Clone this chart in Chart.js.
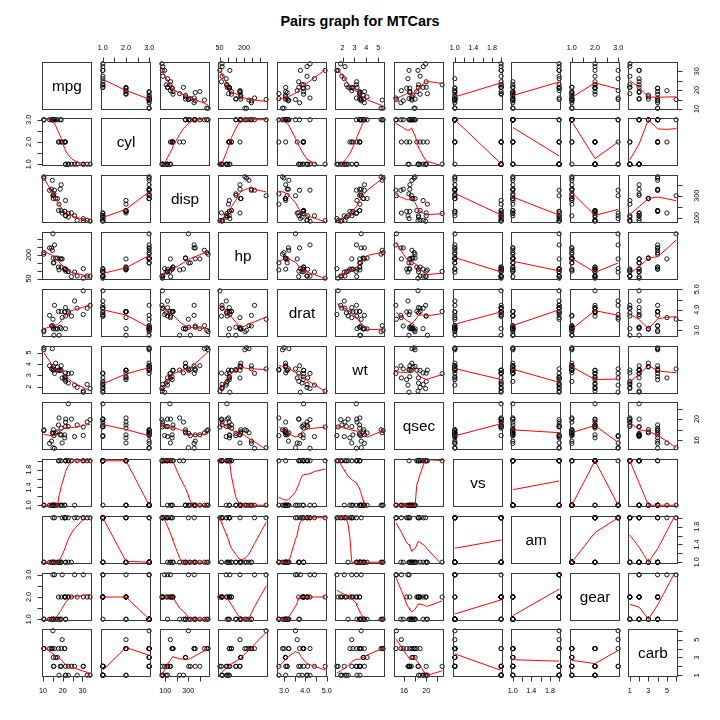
<!DOCTYPE html>
<html>
<head>
<meta charset="utf-8">
<script src="https://cdn.jsdelivr.net/npm/chart.js@4.4.1/dist/chart.umd.min.js"></script>
<style>
  html, body { margin:0; padding:0; background:#fff; }
  #wrap { position:relative; width:720px; height:720px; overflow:hidden; background:#fff; }
  #title { position:absolute; left:0; width:720px; top:13px; text-align:center;
           font-family:"Liberation Sans", Arial, sans-serif; font-weight:bold; font-size:14.4px; color:#000; }
  canvas { position:absolute; }
</style>
</head>
<body>
<div id="wrap"><div id="title">Pairs graph for MTCars</div></div>
<script>
// ---- data (mtcars; factors cyl, vs, am, gear, carb shown as level codes) ----
const varNames = ["mpg","cyl","disp","hp","drat","wt","qsec","vs","am","gear","carb"];
const mpg  = [21.0,21.0,22.8,21.4,18.7,18.1,14.3,24.4,22.8,19.2,17.8,16.4,17.3,15.2,10.4,10.4,14.7,32.4,30.4,33.9,21.5,15.5,15.2,13.3,19.2,27.3,26.0,30.4,15.8,19.7,15.0,21.4];
const cyl  = [2,2,1,2,3,2,3,1,1,2,2,3,3,3,3,3,3,1,1,1,1,3,3,3,3,1,1,1,3,2,3,1];
const disp = [160,160,108,258,360,225,360,146.7,140.8,167.6,167.6,275.8,275.8,275.8,472,460,440,78.7,75.7,71.1,120.1,318,304,350,400,79,120.3,95.1,351,145,301,121];
const hp   = [110,110,93,110,175,105,245,62,95,123,123,180,180,180,205,215,230,66,52,65,97,150,150,245,175,66,91,113,264,175,335,109];
const drat = [3.90,3.90,3.85,3.08,3.15,2.76,3.21,3.69,3.92,3.92,3.92,3.07,3.07,3.07,2.93,3.00,3.23,4.08,4.93,4.22,3.70,2.76,3.15,3.73,3.08,4.08,4.43,3.77,4.22,3.62,3.54,4.11];
const wt   = [2.620,2.875,2.320,3.215,3.440,3.460,3.570,3.190,3.150,3.440,3.440,4.070,3.730,3.780,5.250,5.424,5.345,2.200,1.615,1.835,2.465,3.520,3.435,3.840,3.845,1.935,2.140,1.513,3.170,2.770,3.570,2.780];
const qsec = [16.46,17.02,18.61,19.44,17.02,20.22,15.84,20.00,22.90,18.30,18.90,17.40,17.60,18.00,17.98,17.82,17.42,19.47,18.52,19.90,20.01,16.87,17.30,15.41,17.05,18.90,16.70,16.90,14.50,15.50,14.60,18.60];
const vs   = [1,1,2,2,1,2,1,2,2,2,2,1,1,1,1,1,1,2,2,2,2,1,1,1,1,2,1,2,1,1,1,2];
const am   = [2,2,2,1,1,1,1,1,1,1,1,1,1,1,1,1,1,2,2,2,1,1,1,1,1,2,2,2,2,2,2,2];
const gear = [2,2,2,1,1,1,1,2,2,2,2,1,1,1,1,1,1,2,2,2,1,1,1,1,1,2,3,3,3,3,3,2];
const carb = [4,4,1,1,2,1,4,2,2,4,4,3,3,3,4,4,4,1,2,1,1,2,2,4,2,1,2,2,4,5,6,2];
const columns = [mpg,cyl,disp,hp,drat,wt,qsec,vs,am,gear,carb];

// ---- axis ticks (all tick marks) and the labels R printed ----
const tickMarks = [
  [10,15,20,25,30],
  [1,1.5,2,2.5,3],
  [100,200,300,400],
  [50,100,150,200,250,300],
  [3,3.5,4,4.5,5],
  [2,3,4,5],
  [16,18,20,22],
  [1,1.2,1.4,1.6,1.8,2],
  [1,1.2,1.4,1.6,1.8,2],
  [1,1.5,2,2.5,3],
  [1,2,3,4,5,6]
];
const tickLabels = [
  {10:"10",20:"20",30:"30"},
  {1:"1.0",2:"2.0",3:"3.0"},
  {100:"100",300:"300"},
  {50:"50",200:"200"},
  {3:"3.0",4:"4.0",5:"5.0"},
  {2:"2",3:"3",4:"4",5:"5"},
  {16:"16",20:"20"},
  {1:"1.0",1.4:"1.4",1.8:"1.8"},
  {1:"1.0",1.4:"1.4",1.8:"1.8"},
  {1:"1.0",2:"2.0",3:"3.0"},
  {1:"1",3:"3",5:"5"}
];

// ---- R's lowess (clowess port) used by panel.smooth ----
function lowest(x, y, n, xs, nleft, nright, w, userw, rw) {
  const range = x[n] - x[1];
  const h = Math.max(xs - x[nleft], x[nright] - xs);
  const h9 = 0.999 * h, h1 = 0.001 * h;
  let a = 0, j = nleft;
  while (j <= n) {
    w[j] = 0;
    const r = Math.abs(x[j] - xs);
    if (r <= h9) {
      if (r <= h1) w[j] = 1;
      else { const q = r / h; const t = 1 - q * q * q; w[j] = t * t * t; }
      if (userw) w[j] *= rw[j];
      a += w[j];
    } else if (x[j] > xs) break;
    j++;
  }
  const nrt = j - 1;
  if (a <= 0) return { ok: false, ys: 0 };
  for (j = nleft; j <= nrt; j++) w[j] /= a;
  if (h > 0) {
    a = 0;
    for (j = nleft; j <= nrt; j++) a += w[j] * x[j];
    let b = xs - a, c = 0;
    for (j = nleft; j <= nrt; j++) c += w[j] * (x[j] - a) * (x[j] - a);
    if (Math.sqrt(c) > 0.001 * range) {
      b /= c;
      for (j = nleft; j <= nrt; j++) w[j] *= (b * (x[j] - a) + 1);
    }
  }
  let ys = 0;
  for (j = nleft; j <= nrt; j++) ys += w[j] * y[j];
  return { ok: true, ys: ys };
}
function clowess(x, y, n, f, nsteps, delta) {
  const ys = new Array(n + 1).fill(0), rw = new Array(n + 1).fill(0), res = new Array(n + 1).fill(0);
  if (n < 2) { ys[1] = y[1]; return ys; }
  const ns = Math.max(2, Math.min(n, Math.floor(f * n + 1e-7)));
  let iter = 1;
  while (iter <= nsteps + 1) {
    let nleft = 1, nright = ns, last = 0, i = 1;
    for (;;) {
      if (nright < n) {
        const d1 = x[i] - x[nleft], d2 = x[nright + 1] - x[i];
        if (d1 > d2) { nleft++; nright++; continue; }
      }
      const r = lowest(x, y, n, x[i], nleft, nright, res, iter > 1, rw);
      ys[i] = r.ok ? r.ys : y[i];
      if (last < i - 1) {
        const denom = x[i] - x[last];
        for (let j = last + 1; j < i; j++) {
          const alpha = (x[j] - x[last]) / denom;
          ys[j] = alpha * ys[i] + (1 - alpha) * ys[last];
        }
      }
      last = i;
      const cut = x[last] + delta;
      for (i = last + 1; i <= n; i++) {
        if (x[i] > cut) break;
        if (x[i] === x[last]) { ys[i] = ys[last]; last = i; }
      }
      i = Math.max(last + 1, i - 1);
      if (last >= n) break;
    }
    for (i = 1; i <= n; i++) res[i] = y[i] - ys[i];
    let sc = 0;
    for (i = 1; i <= n; i++) sc += Math.abs(res[i]);
    sc /= n;
    if (iter > nsteps) break;
    const s = [];
    for (i = 1; i <= n; i++) s.push(Math.abs(res[i]));
    s.sort((p, q) => p - q);
    const m1 = Math.floor(n / 2);
    let cmad;
    if (n % 2 === 0) { const m2 = n - m1 - 1; cmad = 3 * (s[m1] + s[m2]); }
    else cmad = 6 * s[m1];
    if (cmad < 1e-7 * sc) break;
    const c9 = 0.999 * cmad, c1 = 0.001 * cmad;
    for (i = 1; i <= n; i++) {
      const r = Math.abs(res[i]);
      if (r <= c1) rw[i] = 1;
      else if (r <= c9) { const u = r / cmad; rw[i] = (1 - u * u) * (1 - u * u); }
      else rw[i] = 0;
    }
    iter++;
  }
  return ys;
}
function lowess(xv, yv) {
  const n = xv.length;
  const o = xv.map((v, i) => i).sort((a, b) => (xv[a] - xv[b]) || (a - b));
  const x = [0].concat(o.map(i => xv[i]));
  const y = [0].concat(o.map(i => yv[i]));
  const delta = 0.01 * (x[n] - x[1]);
  const ys = clowess(x, y, n, 2 / 3, 3, delta);
  const out = [];
  for (let i = 1; i <= n; i++) out.push({ x: x[i], y: ys[i] });
  return out;
}

// ---- layout ----
const NV = varNames.length;
const M = 30;
const BOXW = 50, BOXH = 48;
const boxLeft = i => Math.round(42.3 + i * 58.62);
const boxTop  = i => Math.round(61.7 + i * 56.76);
const TICKFONT = '7.2px "Liberation Sans", Arial, sans-serif';

function rangeOf(arr) {
  let lo = Math.min(...arr), hi = Math.max(...arr);
  const r = hi - lo;
  return [lo - 0.04 * r, hi + 0.04 * r];
}

const panelPlugin = {
  id: 'panelPlugin',
  afterDraw(chart) {
    const o = chart.options.plugins.panelPlugin;
    const ctx = chart.ctx, ca = chart.chartArea;
    const xs = chart.scales.x, ys = chart.scales.y;
    ctx.save();
    // box
    ctx.strokeStyle = '#383838';
    ctx.lineWidth = 1;
    ctx.strokeRect(ca.left + 0.5, ca.top + 0.5, ca.width - 1, ca.height - 1);
    // diagonal label
    if (o.label) {
      ctx.fillStyle = '#000';
      ctx.font = '15.3px "Liberation Sans", Arial, sans-serif';
      ctx.textAlign = 'center';
      ctx.textBaseline = 'middle';
      ctx.fillText(o.label, (ca.left + ca.right) / 2, (ca.top + ca.bottom) / 2 + 1);
    }
    ctx.font = TICKFONT;
    ctx.fillStyle = '#000';
    ctx.strokeStyle = '#383838';
    const drawX = (side, vi) => {
      const marks = tickMarks[vi], labs = tickLabels[vi];
      const yEdge = side === 'top' ? ca.top + 0.5 : ca.bottom - 0.5;
      const dir = side === 'top' ? -1 : 1;
      ctx.beginPath();
      const p0 = Math.round(xs.getPixelForValue(marks[0])) + 0.5;
      const p1 = Math.round(xs.getPixelForValue(marks[marks.length - 1])) + 0.5;
      ctx.moveTo(p0, yEdge); ctx.lineTo(p1, yEdge);
      marks.forEach(v => {
        const px = Math.round(xs.getPixelForValue(v)) + 0.5;
        ctx.moveTo(px, yEdge); ctx.lineTo(px, yEdge + dir * 5);
      });
      ctx.stroke();
      ctx.textAlign = 'center'; ctx.textBaseline = 'middle';
      marks.forEach(v => {
        if (labs[v] === undefined) return;
        const px = xs.getPixelForValue(v);
        ctx.fillText(labs[v], px, side === 'top' ? ca.top - 14 : ca.bottom + 14.5);
      });
    };
    const drawY = (side, vi) => {
      const marks = tickMarks[vi], labs = tickLabels[vi];
      const xEdge = side === 'left' ? ca.left + 0.5 : ca.right - 0.5;
      const dir = side === 'left' ? -1 : 1;
      ctx.beginPath();
      const p0 = Math.round(ys.getPixelForValue(marks[0])) + 0.5;
      const p1 = Math.round(ys.getPixelForValue(marks[marks.length - 1])) + 0.5;
      ctx.moveTo(xEdge, p0); ctx.lineTo(xEdge, p1);
      marks.forEach(v => {
        const py = Math.round(ys.getPixelForValue(v)) + 0.5;
        ctx.moveTo(xEdge, py); ctx.lineTo(xEdge + dir * 5, py);
      });
      ctx.stroke();
      ctx.textAlign = 'center'; ctx.textBaseline = 'middle';
      marks.forEach(v => {
        if (labs[v] === undefined) return;
        const py = ys.getPixelForValue(v);
        ctx.save();
        ctx.translate(side === 'left' ? ca.left - 13 : ca.right + 19, py);
        ctx.rotate(-Math.PI / 2);
        ctx.fillText(labs[v], 0, 0);
        ctx.restore();
      });
    };
    if (o.top !== null) drawX('top', o.top);
    if (o.bottom !== null) drawX('bottom', o.bottom);
    if (o.left !== null) drawY('left', o.left);
    if (o.right !== null) drawY('right', o.right);
    ctx.restore();
  }
};

const wrap = document.getElementById('wrap');
for (let r = 0; r < NV; r++) {
  for (let c = 0; c < NV; c++) {
    const cv = document.createElement('canvas');
    const W = BOXW + 2 * M, H = BOXH + 2 * M;
    cv.width = W; cv.height = H;
    cv.style.width = W + 'px'; cv.style.height = H + 'px';
    cv.style.left = (boxLeft(c) - M) + 'px';
    cv.style.top = (boxTop(r) - M) + 'px';
    wrap.appendChild(cv);
    const xr = rangeOf(columns[c]), yr = rangeOf(columns[r]);
    const datasets = [];
    if (r !== c) {
      const pts = columns[c].map((v, i) => ({ x: v, y: columns[r][i] }));
      datasets.push({
        type: 'line', data: lowess(columns[c], columns[r]),
        borderColor: '#ff0000', borderWidth: 1, pointRadius: 0, tension: 0,
        fill: false, order: 0, clip: 0
      });
      datasets.push({
        type: 'scatter', data: pts, pointRadius: 2.1, pointStyle: 'circle',
        pointBorderColor: '#000', pointBackgroundColor: 'rgba(0,0,0,0)',
        pointBorderWidth: 0.9, showLine: false, order: 1, clip: false
      });
    }
    new Chart(cv, {
      type: 'scatter',
      data: { datasets: datasets },
      options: {
        responsive: false, animation: false, events: [],
        devicePixelRatio: 1,
        layout: { padding: M },
        plugins: {
          legend: { display: false }, tooltip: { enabled: false },
          panelPlugin: {
            label: r === c ? varNames[r] : null,
            top: (r === 0 && c % 2 === 1) ? c : null,
            bottom: (r === NV - 1 && c % 2 === 0) ? c : null,
            left: (c === 0 && r % 2 === 1) ? r : null,
            right: (c === NV - 1 && r % 2 === 0) ? r : null
          }
        },
        scales: {
          x: { type: 'linear', display: false, min: xr[0], max: xr[1] },
          y: { type: 'linear', display: false, min: yr[0], max: yr[1] }
        }
      },
      plugins: [panelPlugin]
    });
  }
}
</script>
</body>
</html>
